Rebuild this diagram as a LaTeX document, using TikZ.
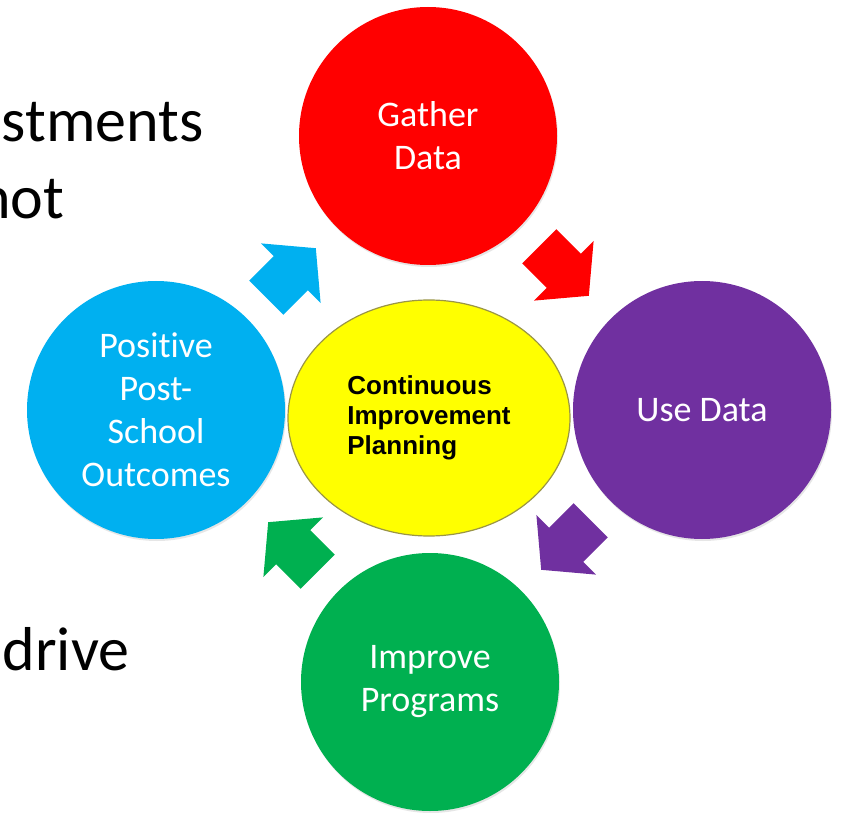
\documentclass[tikz,border=0pt]{standalone}
\usepackage{fontspec}
\setmainfont{Carlito}[Ligatures=NoCommon]
\newfontfamily\arialfont{Liberation Sans}
\usetikzlibrary{shapes.arrows,shapes.geometric,shadows}
\definecolor{cipred}{HTML}{FF0000}
\definecolor{cippurple}{HTML}{7030A0}
\definecolor{cipblue}{HTML}{00B0F0}
\definecolor{cipgreen}{HTML}{00B050}
\definecolor{cipyellow}{HTML}{FFFF00}
\newcommand{\slideword}[3]{\node[anchor=base east,font=\fontsize{62}{75}\selectfont] (#1) at (#2) {#3}}

\begin{document}
\begin{tikzpicture}[x=1pt,y=-1pt,
    stage/.style={circle,minimum size=258pt,inner sep=0pt,text=white,align=center,
      font=\fontsize{36}{43}\selectfont,
      drop shadow={shadow xshift=1pt,shadow yshift=-2pt,opacity=.2}},
    turn/.style={single arrow,minimum height=70pt,inner xsep=0pt,inner ysep=24pt,
      single arrow head extend=18pt,single arrow tip angle=100,anchor=tip}]
    \useasboundingbox (0,0) rectangle (841,813);

    % cut-off slide text behind the picture
    \slideword{w1}{207,142}{stments};
    \slideword{w2}{68,219}{not};
    \slideword{w3}{133,670}{drive};

    \node[stage,fill=cipred] (gather) at (428,136) {Gather\\Data};
    \node[stage,fill=cippurple] (use) at (702,410) {Use Data};
    \node[stage,fill=cipgreen] (improve) at (430,682) {Improve\\Programs};
    \node[stage,fill=cipblue] (outcomes) at (156,410) {Positive\\Post-\\School\\Outcomes};

    \node[ellipse,minimum width=282pt,minimum height=236pt,inner sep=0pt,
      fill=cipyellow,draw=yellow!55!black,line width=1.2pt,align=left,
      font=\arialfont\bfseries\fontsize{26}{30}\selectfont] (plan) at (429,418)
      {Continuous\\Improvement\\Planning};

    \node[turn,fill=cipred,rotate=-45] (a1) at (589,296) {};
    \node[turn,fill=cippurple,rotate=-135] (a2) at (541,570) {};
    \node[turn,fill=cipgreen,rotate=135] (a3) at (268,522) {};
    \node[turn,fill=cipblue,rotate=45] (a4) at (316,248) {};
\end{tikzpicture}
\end{document}
